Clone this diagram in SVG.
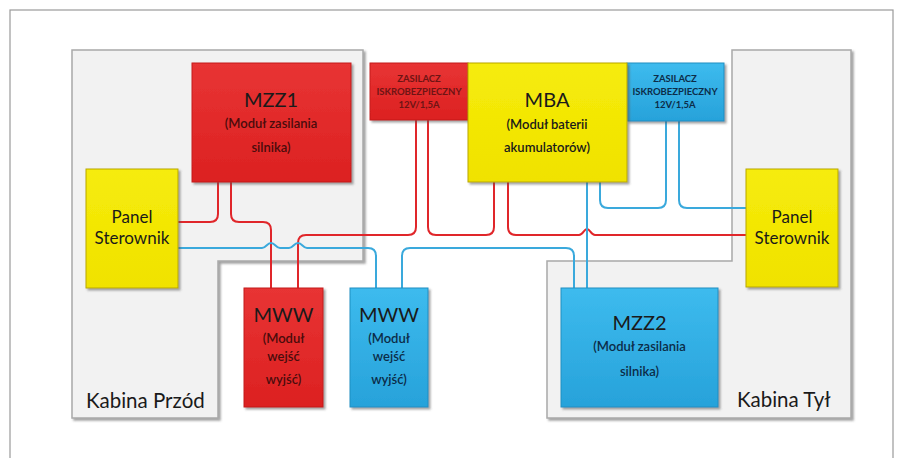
<svg xmlns="http://www.w3.org/2000/svg" width="904" height="458" viewBox="0 0 904 458">
  <defs>
    <linearGradient id="gRed" x1="0" y1="0" x2="0" y2="1">
      <stop offset="0" stop-color="#e83434"/>
      <stop offset="1" stop-color="#dc2121"/>
    </linearGradient>
    <linearGradient id="gBlue" x1="0" y1="0" x2="0" y2="1">
      <stop offset="0" stop-color="#3dbbee"/>
      <stop offset="1" stop-color="#27a2da"/>
    </linearGradient>
    <linearGradient id="gYellow" x1="0" y1="0" x2="0" y2="1">
      <stop offset="0" stop-color="#f6ec0a"/>
      <stop offset="1" stop-color="#f0e200"/>
    </linearGradient>
    <filter id="shadow" x="-10%" y="-10%" width="130%" height="130%">
      <feDropShadow dx="2" dy="2" stdDeviation="1.2" flood-color="#555" flood-opacity="0.55"/>
    </filter>
  </defs>
  <style>
    .frame { fill: #ffffff; stroke: #9a9a9a; stroke-width: 1.2; }
    .cabin { fill: #f2f2f2; stroke: #a9a9a9; stroke-width: 1.5; filter: url(#shadow); }
    .red { fill: url(#gRed); stroke: #c41c1c; stroke-width: 1; filter: url(#shadow); }
    .blue { fill: url(#gBlue); stroke: #1f8fc2; stroke-width: 1; filter: url(#shadow); }
    .yellow { fill: url(#gYellow); stroke: #b9a800; stroke-width: 1; filter: url(#shadow); }
    text { font-family: Lato, "Open Sans", "Liberation Sans", sans-serif; text-anchor: middle; }
    .title { font-size: 20px; fill: #1a1a1a; }
    .sub { font-size: 13px; font-weight: 600; }
    .subR { fill: #4a0c0c; }
    .subB { fill: #0c2c48; }
    .subY { fill: #1a1a1a; }
    .psu { font-size: 9.5px; font-weight: 700; }
    .psuR { fill: #6e1414; }
    .psuB { fill: #0c2c48; }
    .panel { font-size: 17px; fill: #1a1a1a; }
    .cabinLabel { font-size: 20.5px; fill: #1a1a1a; text-anchor: start; }
    .wire { fill: none; stroke-width: 2; stroke-linecap: butt; stroke-linejoin: round; }
    .wr { stroke: #e0262a; }
    .wb { stroke: #3aa9dc; }
  </style>

  <!-- outer frame -->
  <rect class="frame" x="10" y="10" width="883" height="470"/>

  <!-- cabins -->
  <g id="kabina-przod">
    <path class="cabin" d="M72,50 H363 V261 H218 V418 H72 Z"/>
    <text class="cabinLabel" x="86" y="408">Kabina Przód</text>
  </g>
  <g id="kabina-tyl">
    <path class="cabin" d="M732,50 H851 V418 H547 V261 H732 Z"/>
    <text class="cabinLabel" x="737" y="407">Kabina Tył</text>
  </g>

  <!-- connectors -->
  <g id="connectors">
    <!-- red lines -->
    <path class="wire wr" d="M218,182 V214 Q218,222 210,222 H178"/>
    <path class="wire wr" d="M231,182 V214 Q231,222 239,222 H263 Q271,222 271,230 V288"/>
    <path class="wire wr" d="M298,288 V243 Q298,235 306,235 H408 Q416,235 416,227 V120"/>
    <path class="wire wr" d="M428,120 V227 Q428,235 436,235 H486 Q494,235 494,227 V182"/>
    <path class="wire wr" d="M508,182 V227 Q508,235 516,235 H579 C583,235 584,229 587,229 C590,229 591,235 595,235 H746"/>
    <!-- blue lines -->
    <path class="wire wb" d="M178,248 H262 C266,248 267,243 271,243 C275,243 276,248 280,248 H289 C293,248 294,243 298,243 C302,243 303,248 307,248 H368 Q376,248 376,256 V288"/>
    <path class="wire wb" d="M402,288 V256 Q402,248 410,248 H566 Q574,248 574,256 V288"/>
    <path class="wire wb" d="M587,182 V288"/>
    <path class="wire wb" d="M600,182 V200 Q600,208 608,208 H658 Q666,208 666,200 V121"/>
    <path class="wire wb" d="M679,121 V200 Q679,208 687,208 H746"/>
  </g>

  <!-- nodes -->
  <g id="mzz1">
    <rect class="red" x="192" y="63" width="159" height="119"/>
    <text class="title" x="271" y="107">MZZ1</text>
    <text class="sub subR" x="271" y="128">(Moduł zasilania</text>
    <text class="sub subR" x="271" y="152">silnika)</text>
  </g>

  <g id="zasilacz-czerwony">
    <rect class="red" x="370" y="63" width="98" height="57"/>
    <text class="psu psuR" x="419" y="82">ZASILACZ</text>
    <text class="psu psuR" x="419" y="95">ISKROBEZPIECZNY</text>
    <text class="psu psuR" x="419" y="108">12V/1,5A</text>
  </g>

  <g id="zasilacz-niebieski">
    <rect class="blue" x="627" y="63" width="97" height="58"/>
    <text class="psu psuB" x="675" y="82">ZASILACZ</text>
    <text class="psu psuB" x="675" y="95">ISKROBEZPIECZNY</text>
    <text class="psu psuB" x="675" y="108">12V/1,5A</text>
  </g>

  <g id="mba">
    <rect class="yellow" x="468" y="63" width="159" height="119"/>
    <text class="title" x="547" y="107">MBA</text>
    <text class="sub subY" x="547" y="129" font-size="14">(Moduł baterii</text>
    <text class="sub subY" x="547" y="152" font-size="14">akumulatorów)</text>
  </g>

  <g id="panel-przod">
    <rect class="yellow" x="86" y="169" width="92" height="119"/>
    <text class="panel" x="132" y="223">Panel</text>
    <text class="panel" x="132" y="244">Sterownik</text>
  </g>

  <g id="panel-tyl">
    <rect class="yellow" x="746" y="169" width="92" height="118"/>
    <text class="panel" x="792" y="223">Panel</text>
    <text class="panel" x="792" y="244">Sterownik</text>
  </g>

  <g id="mww-czerwony">
    <rect class="red" x="244" y="288" width="79" height="119"/>
    <text class="title" x="283.5" y="322">MWW</text>
    <text class="sub subR" x="283.5" y="343">(Moduł</text>
    <text class="sub subR" x="283.5" y="361">wejść</text>
    <text class="sub subR" x="283.5" y="384">wyjść)</text>
  </g>

  <g id="mww-niebieski">
    <rect class="blue" x="350" y="288" width="78" height="119"/>
    <text class="title" x="389" y="322">MWW</text>
    <text class="sub subB" x="389" y="343">(Moduł</text>
    <text class="sub subB" x="389" y="361">wejść</text>
    <text class="sub subB" x="389" y="384">wyjść)</text>
  </g>

  <g id="mzz2">
    <rect class="blue" x="561" y="288" width="157" height="119"/>
    <text class="title" x="639.5" y="330">MZZ2</text>
    <text class="sub subB" x="639.5" y="351">(Moduł zasilania</text>
    <text class="sub subB" x="639.5" y="376">silnika)</text>
  </g>
</svg>
